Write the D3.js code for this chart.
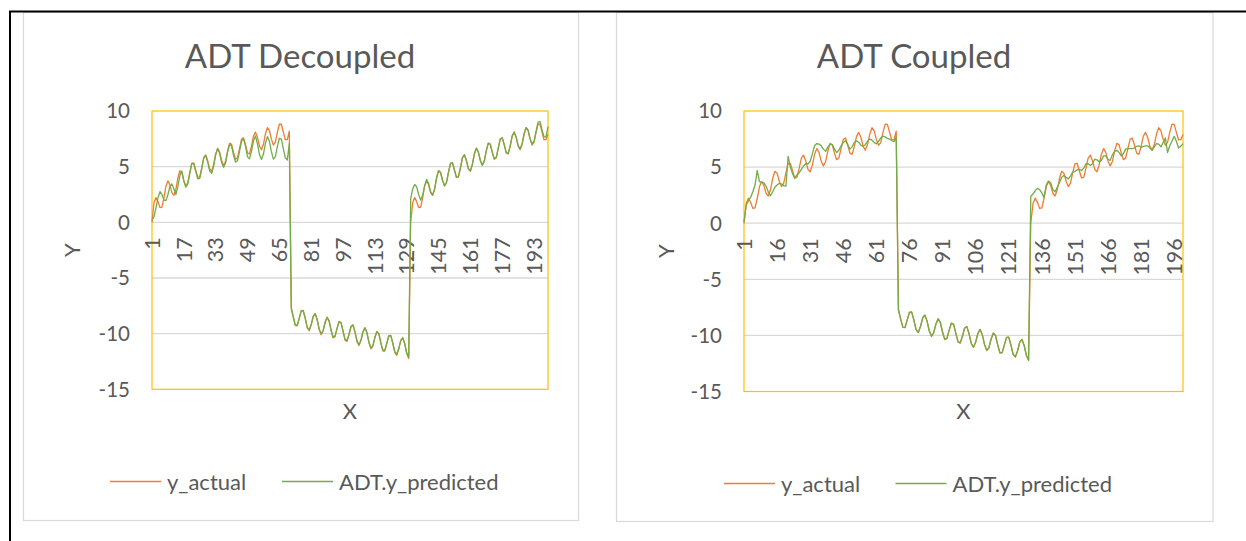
<!DOCTYPE html>
<html><head><meta charset="utf-8">
<script src="https://cdn.jsdelivr.net/npm/d3@7"></script>
<style>
body{margin:0;background:#fff;}
svg{display:block;font-family:Lato,"Open Sans",sans-serif;}
</style>
</head><body>
<svg id="c" width="1246" height="541"></svg>
<script>
// ---------------- data ----------------
const yActual = [
0, 1.76, 2.23, 1.86, 1.32, 1.37, 2.20, 3.24, 3.72, 3.37,
2.67, 2.42, 2.98, 3.98, 4.63, 4.46, 3.74, 3.26, 3.57, 4.49,
5.29, 5.34, 4.68, 4.03, 4.08, 4.88, 5.79, 6.06, 5.54, 4.79,
4.59, 5.20, 6.15, 6.65, 6.31, 5.53, 5.11, 5.50, 6.43, 7.11,
7.00, 6.26, 5.66, 5.81, 6.65, 7.47, 7.59, 6.97, 6.24, 6.14,
6.84, 7.74, 8.10, 7.64, 6.85, 6.52, 7.01, 7.94, 8.51, 8.25,
7.47, 6.94, 7.21, 8.09, 8.83, 8.81, 8.10, 7.42, 7.44, 8.20,
-7.69, -8.53, -9.28, -9.30, -8.62, -7.93, -7.91, -8.63, -9.49, -9.74,
-9.21, -8.44, -8.18, -8.73, -9.63, -10.10, -9.76, -8.98, -8.51, -8.85,
-9.72, -10.38, -10.27, -9.53, -8.90, -9.00, -9.79, -10.58, -10.70, -10.09,
-9.34, -9.20, -9.84, -10.72, -11.07, -10.62, -9.83, -9.46, -9.91, -10.80,
-11.36, -11.12, -10.34, -9.79, -10.01, -10.85, -11.57, -11.56, -10.87, -10.17,
-10.15, -10.87, -11.71, -11.94, -11.39, -10.60, -10.35, -10.90, -11.79, -12.24,
0, 1.76, 2.23, 1.86, 1.32, 1.37, 2.20, 3.24, 3.72, 3.37,
2.67, 2.42, 2.98, 3.98, 4.63, 4.46, 3.74, 3.26, 3.57, 4.49,
5.29, 5.34, 4.68, 4.03, 4.08, 4.88, 5.79, 6.06, 5.54, 4.79,
4.59, 5.20, 6.15, 6.65, 6.31, 5.53, 5.11, 5.50, 6.43, 7.11,
7.00, 6.26, 5.66, 5.81, 6.65, 7.47, 7.59, 6.97, 6.24, 6.14,
6.84, 7.74, 8.10, 7.64, 6.85, 6.52, 7.01, 7.94, 8.51, 8.25,
7.47, 6.94, 7.21, 8.09, 8.83, 8.81, 8.10, 7.42, 7.44, 7.90
];

const yPredDecoupled = [
0.2, 0.5, 1.3, 2.2, 2.75, 2.5, 2.0, 1.95, 2.5, 3.2,
3.45, 3.0, 2.5, 3.2, 4.2, 4.6, 3.7, 3.15, 3.45, 4.4,
5.3, 5.25, 4.55, 3.9, 3.95, 4.8, 5.8, 6.0, 5.4, 4.6,
4.4, 5.05, 6.1, 6.6, 6.2, 5.35, 4.95, 5.35, 6.3, 7.0,
6.85, 6.0, 5.4, 5.55, 6.4, 7.3, 7.5, 6.85, 5.88, 5.70,
6.39, 7.32, 7.75, 7.05, 6.09, 5.65, 6.13, 7.09, 7.7, 7.29,
6.35, 5.68, 5.91, 6.82, 7.55, 7.48, 6.62, 5.80, 5.6, 7.1,
-7.72, -8.5, -9.2, -9.25, -8.6, -7.98, -7.96, -8.6, -9.42, -9.66,
-9.2, -8.48, -8.24, -8.72, -9.55, -10.0, -9.72, -9.0, -8.56, -8.85,
-9.66, -10.3, -10.2, -9.52, -8.95, -9.03, -9.75, -10.5, -10.62, -10.07,
-9.38, -9.25, -9.82, -10.65, -11.0, -10.6, -9.86, -9.5, -9.9, -10.74,
-11.28, -11.08, -10.35, -9.84, -10.02, -10.8, -11.48, -11.48, -10.86, -10.2,
-10.18, -10.84, -11.62, -11.85, -11.36, -10.62, -10.4, -10.9, -11.72, -12.1,
2.1, 3.0, 3.4, 3.2, 2.5, 2.0, 2.4, 3.3, 3.85, 3.5,
2.75, 2.45, 2.95, 4.0, 4.65, 4.5, 3.78, 3.3, 3.6, 4.5,
5.3, 5.36, 4.7, 4.05, 4.1, 4.9, 5.8, 6.08, 5.56, 4.82,
4.62, 5.22, 6.16, 6.66, 6.33, 5.56, 5.14, 5.52, 6.44, 7.12,
7.02, 6.3, 5.7, 5.84, 6.66, 7.48, 7.6, 7.0, 6.28, 6.18,
6.86, 7.75, 8.12, 7.66, 6.9, 6.6, 7.05, 7.96, 8.52, 8.28,
7.52, 7.05, 7.3, 8.15, 9.0, 9.05, 8.3, 7.7, 7.65, 8.6
];

const yPredCoupled = [
0.1, 1.6, 2.0, 2.3, 2.8, 3.4, 4.7, 3.7, 3.65, 3.6,
3.3, 2.8, 2.45, 2.8, 3.2, 3.4, 3.55, 3.5, 3.35, 3.3,
5.95, 5.0, 4.4, 4.0, 4.3, 4.5, 4.8, 5.1, 5.3, 5.3,
5.5, 6.2, 6.9, 7.1, 7.05, 6.9, 6.6, 6.4, 6.8, 7.0,
7.0, 6.6, 6.3, 6.5, 6.9, 7.2, 7.35, 7.0, 6.6, 6.8,
7.2, 7.35, 7.2, 6.95, 6.85, 7.0, 7.3, 7.5, 7.4, 7.2,
7.07, 7.3, 7.6, 7.75, 7.7, 7.55, 7.5, 7.35, 7.27, 7.65,
-7.7, -8.52, -9.26, -9.28, -8.62, -7.95, -7.92, -8.62, -9.46, -9.72,
-9.21, -8.46, -8.2, -8.73, -9.6, -10.06, -9.75, -8.99, -8.53, -8.85,
-9.7, -10.35, -10.25, -9.53, -8.92, -9.01, -9.78, -10.55, -10.67, -10.08,
-9.36, -9.22, -9.84, -10.7, -11.04, -10.61, -9.84, -9.48, -9.91, -10.78,
-11.33, -11.1, -10.34, -9.81, -10.01, -10.83, -11.54, -11.53, -10.87, -10.18,
-10.16, -10.86, -11.68, -11.9, -11.38, -10.61, -10.37, -10.9, -11.76, -12.2,
2.4, 2.6, 2.9, 3.1, 3.0, 2.7, 2.3, 3.4, 3.75, 3.6,
3.0, 2.8, 3.2, 3.6, 4.1, 4.25, 4.1, 3.95, 4.2, 4.55,
4.6, 4.75, 4.8, 4.7, 4.9, 5.3, 5.3, 5.15, 5.3, 5.7,
5.65, 5.45, 5.6, 6.0, 6.0, 5.7, 5.6, 6.1, 6.4, 6.5,
6.3, 6.0, 6.2, 6.6, 6.65, 6.65, 6.65, 6.7, 6.85, 6.9,
6.75, 6.85, 6.9, 6.9, 6.7, 6.5, 6.8, 7.1, 7.05, 6.8,
7.2, 7.6, 6.3, 6.9, 7.3, 7.75, 7.3, 6.7, 6.85, 7.1
];

const xTicksDecoupled = [1, 17, 33, 49, 65, 81, 97, 113, 129, 145, 161, 177, 193];
const xTicksCoupled = [1, 16, 31, 46, 61, 76, 91, 106, 121, 136, 151, 166, 181, 196];
const yTicks = [-15, -10, -5, 0, 5, 10];
const seriesNames = ["y_actual", "ADT.y_predicted"];
const titles = ["ADT Decoupled", "ADT Coupled"];

// ---------------- drawing ----------------
const TXT = "#595959", ORANGE = "#ED7D31", GREEN = "#70AD47";
const svg = d3.select("#c");
svg.append("rect").attr("width", 1246).attr("height", 541).attr("fill", "#fff");

function drawChart(o) {
  const g = svg.append("g");
  g.append("rect").attr("x", o.frame[0]).attr("y", o.frame[1])
    .attr("width", o.frame[2] - o.frame[0]).attr("height", o.frame[3] - o.frame[1])
    .attr("fill", "#fff").attr("stroke", "#D9D9D9").attr("stroke-width", 1.2);

  g.append("text").attr("x", o.titleX).attr("y", 68).attr("text-anchor", "middle")
    .attr("font-size", 33).attr("fill", TXT).text(o.title);

  const x = d3.scaleLinear().domain([1, o.values.length]).range([o.px0, o.px1]);
  const y = d3.scaleLinear().domain([-15, 10]).range([o.py1, o.py0]);

  // inner gridlines (outer ones coincide with the plot border)
  g.selectAll("line.grid").data(yTicks.slice(1, -1)).enter().append("line")
    .attr("x1", o.px0).attr("x2", o.px1)
    .attr("y1", d => y(d)).attr("y2", d => y(d))
    .attr("stroke", "#D9D9D9").attr("stroke-width", 1.3);

  // plot area border
  g.append("rect").attr("x", o.px0).attr("y", o.py0)
    .attr("width", o.px1 - o.px0).attr("height", o.py1 - o.py0)
    .attr("fill", "none").attr("stroke", "#FFC000").attr("stroke-width", 1.2);

  // y tick labels
  g.selectAll("text.yt").data(yTicks).enter().append("text")
    .attr("x", o.px0 - 22).attr("y", d => y(d)).attr("dy", "0.36em")
    .attr("text-anchor", "end").attr("font-size", 20.5).attr("fill", TXT)
    .text(d => d);

  // x tick labels (rotated)
  g.selectAll("text.xt").data(o.xTicks).enter().append("text")
    .attr("transform", d => `translate(${x(d)},${y(0) + 15}) rotate(-90)`)
    .attr("dy", "0.36em").attr("text-anchor", "end")
    .attr("font-size", 21.5).attr("fill", TXT).text(d => d);

  // series
  const line = d3.line().x((d, i) => x(i + 1)).y(d => y(d));
  g.append("path").datum(yActual).attr("d", line)
    .attr("fill", "none").attr("stroke", ORANGE).attr("stroke-width", 1.3)
    .attr("stroke-linejoin", "round");
  g.append("path").datum(o.values).attr("d", line)
    .attr("fill", "none").attr("stroke", GREEN).attr("stroke-width", 1.3)
    .attr("stroke-linejoin", "round");

  // axis titles
  g.append("text").attr("transform", `translate(${o.yTitleX},${(o.py0 + o.py1) / 2}) rotate(-90)`)
    .attr("dy", "0.36em").attr("text-anchor", "middle").attr("font-size", 22).attr("fill", TXT).text("Y");
  g.append("text").attr("x", (o.px0 + o.px1) / 2).attr("y", 418.5)
    .attr("text-anchor", "middle").attr("font-size", 22).attr("fill", TXT).text("X");

  // legend
  const cols = [ORANGE, GREEN];
  seriesNames.forEach((nm, k) => {
    const lx = o.legX[k];
    g.append("line").attr("x1", lx).attr("x2", lx + 51)
      .attr("y1", o.legY).attr("y2", o.legY)
      .attr("stroke", cols[k]).attr("stroke-width", 1.3);
    g.append("text").attr("x", lx + 57).attr("y", o.legY + 8)
      .attr("font-size", 22).attr("fill", TXT).text(nm);
  });
}

drawChart({
  frame: [23.5, 12.5, 578.5, 520.5], title: titles[0], titleX: 300,
  px0: 152, px1: 548, py0: 111, py1: 389.3,
  values: yPredDecoupled, xTicks: xTicksDecoupled,
  yTitleX: 72, legX: [110, 282], legY: 481.5
});
drawChart({
  frame: [616.5, 12.5, 1213, 521.5], title: titles[1], titleX: 914,
  px0: 744, px1: 1183, py0: 111, py1: 391.5,
  values: yPredCoupled, xTicks: xTicksCoupled,
  yTitleX: 666, legX: [724, 895.5], legY: 483.5
});

// page (table) borders
svg.append("line").attr("x1", 9).attr("x2", 1246).attr("y1", 11.5).attr("y2", 11.5)
  .attr("stroke", "#000").attr("stroke-width", 2);
svg.append("line").attr("x1", 10).attr("x2", 10).attr("y1", 11).attr("y2", 541)
  .attr("stroke", "#000").attr("stroke-width", 2);
</script>
</body></html>
